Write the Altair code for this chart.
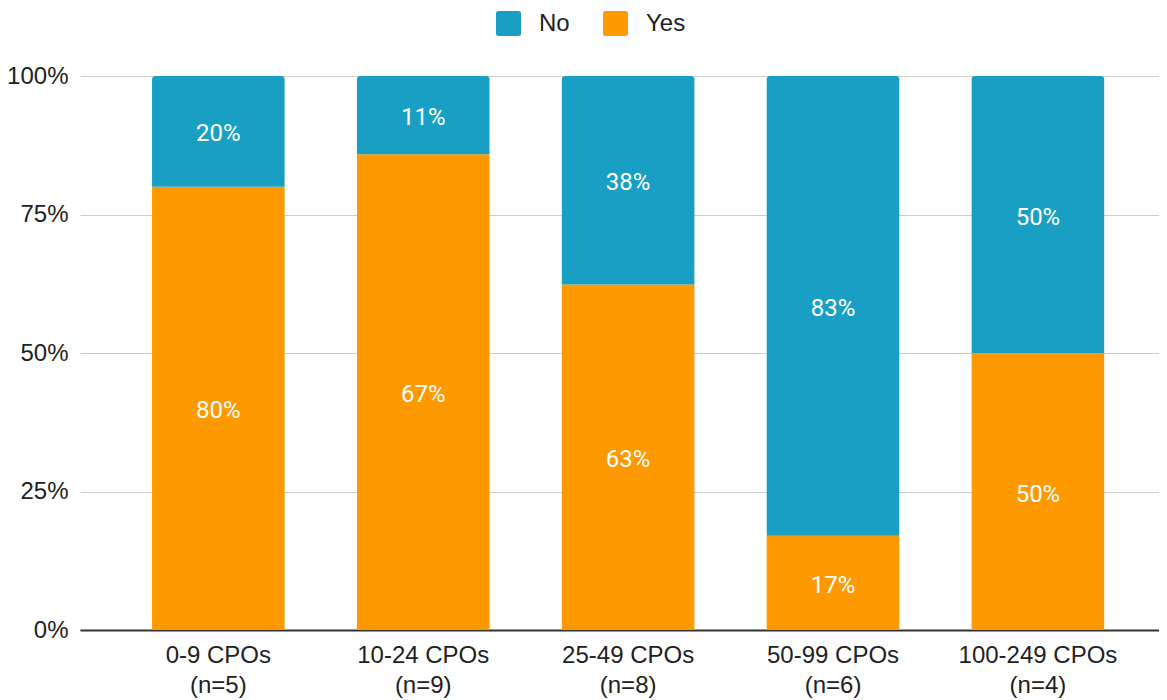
import altair as alt
import pandas as pd

categories = ["0-9 CPOs\n(n=5)", "10-24 CPOs\n(n=9)", "25-49 CPOs\n(n=8)",
              "50-99 CPOs\n(n=6)", "100-249 CPOs\n(n=4)"]
yes_pct = [80, 67, 63, 17, 50]
no_pct = [20, 11, 38, 83, 50]
responses = ["No", "Yes"]
colors = ["#1a9fc4", "#ff9900"]

rows = []
for c, y, n in zip(categories, yes_pct, no_pct):
    rows.append({"cat": c, "resp": "Yes", "value": y, "ord": 0, "lab": f"{y}%"})
    rows.append({"cat": c, "resp": "No", "value": n, "ord": 1, "lab": f"{n}%"})
df = pd.DataFrame(rows)

rounded_square = ("M-1,-0.8 Q-1,-1 -0.8,-1 L0.8,-1 Q1,-1 1,-0.8 L1,0.8 Q1,1 0.8,1 "
                  "L-0.8,1 Q-1,1 -1,0.8 Z")

x_enc = alt.X(
    "cat:N", sort=categories, title=None,
    scale=alt.Scale(paddingInner=0.353, paddingOuter=0.3095, align=0.568),
    axis=alt.Axis(labelAngle=0, domain=True, domainColor="#333333", domainWidth=2,
                  ticks=False, labelPadding=13, labelLineHeight=30,
                  labelExpr="split(datum.label, '\\n')", grid=False),
)
y_scale = alt.Scale(domain=[0, 1])
y_axis = alt.Axis(values=[0, 0.25, 0.5, 0.75, 1], format=".0%", domain=False,
                  ticks=False, grid=True, gridColor="#cccccc", gridWidth=1.2,
                  labelPadding=12, title=None)

color_enc = alt.Color(
    "resp:N",
    scale=alt.Scale(domain=responses, range=colors),
    legend=alt.Legend(title=None, orient="none", legendX=416, legendY=-65,
                      direction="horizontal", symbolType=rounded_square,
                      symbolSize=625, symbolStrokeWidth=0, labelOffset=18,
                      columnPadding=33, padding=0, labelFontSize=24,
                      labelFont="Liberation Sans", labelColor="#222222"),
)

base = alt.Chart(df).transform_stack(
    stack="value", groupby=["cat"], as_=["v0", "v1"], offset="normalize",
    sort=[alt.SortField("ord", order="ascending")],
).transform_calculate(mid="(datum.v0 + datum.v1) / 2")

bar_yes = base.transform_filter(alt.datum.resp == "Yes").mark_bar().encode(
    x=x_enc,
    y=alt.Y("v1:Q", scale=y_scale, axis=y_axis),
    y2="v0:Q",
    color=color_enc,
)
bar_no = base.transform_filter(alt.datum.resp == "No").mark_bar(
    cornerRadiusTopLeft=3, cornerRadiusTopRight=3
).encode(
    x=x_enc,
    y=alt.Y("v1:Q", scale=y_scale, axis=y_axis),
    y2="v0:Q",
    color=color_enc,
)
text = base.mark_text(font="Roboto", fontSize=24, color="#ffffff",
                      baseline="middle", dy=3).encode(
    x=x_enc,
    y=alt.Y("mid:Q", scale=y_scale),
    text="lab:N",
)

chart = alt.layer(bar_yes, bar_no, text).properties(
    width=1079, height=554,
    autosize=alt.AutoSizeParams(type="none"),
    padding={"left": 72, "top": 68, "right": 0, "bottom": 70},
).configure_view(stroke=None).configure_axis(
    labelFont="Liberation Sans", labelFontSize=24, labelColor="#222222",
)

chart.save("out.html", embed_options={"renderer": "svg", "actions": False})
